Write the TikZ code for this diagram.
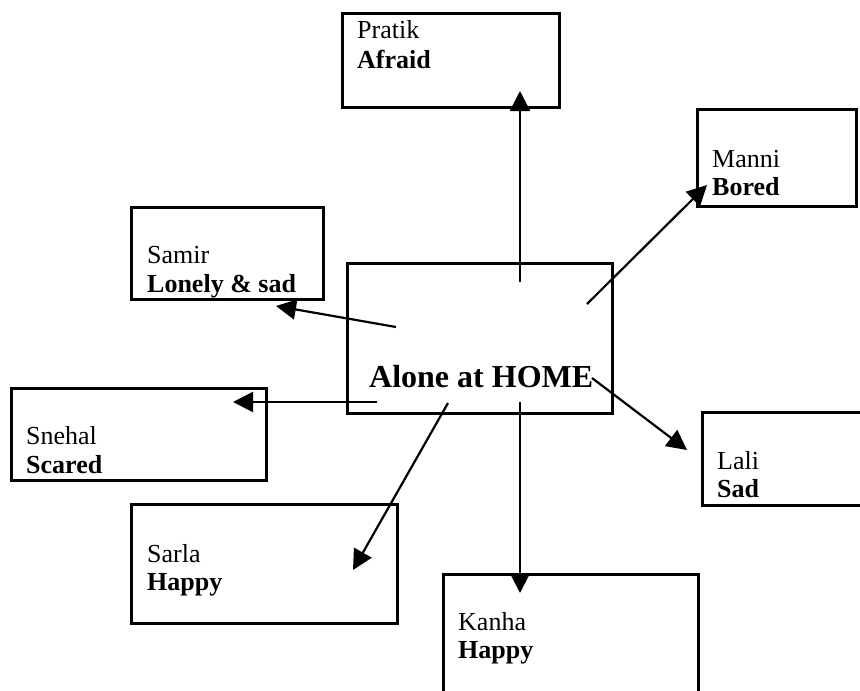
\documentclass[tikz,border=0pt]{standalone}
\usepackage{fontspec}
\setmainfont{Liberation Serif}
\usetikzlibrary{arrows.meta}
\begin{document}
\begin{tikzpicture}[x=1pt,y=-1pt,
  box/.style={draw,line width=3pt},
  lbl/.style={anchor=base west,inner sep=0pt,font=\fontsize{26}{28}\selectfont},
  mood/.style={lbl,font=\fontsize{26}{28}\selectfont\bfseries},
  arr/.style={line width=2.2pt,-{Triangle[length=20pt,width=20pt]}}]
\useasboundingbox (0,0) rectangle (860,691);
\clip (0,0) rectangle (860,691);
\fill[white] (0,0) rectangle (860,691);
% boxes
\draw[box] (342,13) rectangle (559,107) coordinate (pratikbox);
\draw[box] (697,109) rectangle (856,206) coordinate (mannibox);
\draw[box] (131,207) rectangle (323,299) coordinate (samirbox);
\draw[box] (347,263) rectangle (612,413) coordinate (centerbox);
\draw[box] (11,388) rectangle (266,480) coordinate (snehalbox);
\draw[box] (702,412) rectangle (900,505) coordinate (lalibox);
\draw[box] (131,504) rectangle (397,623) coordinate (sarlabox);
\draw[box] (443,574) rectangle (698,720) coordinate (kanhabox);
% texts
\node[lbl]  (pratik)  at (357,38)  {Pratik};
\node[mood] (pratikm) at (357,68)  {Afraid};
\node[lbl]  (manni)   at (712,167) {Manni};
\node[mood] (mannim)  at (712,195) {Bored};
\node[lbl]  (samir)   at (147,263) {Samir};
\node[mood] (samirm)  at (147,292) {Lonely \& sad};
\node[lbl]  (snehal)  at (26,444)  {Snehal};
\node[mood] (snehalm) at (26,473)  {Scared};
\node[lbl]  (lali)    at (717,469) {Lali};
\node[mood] (lalim)   at (717,497) {Sad};
\node[lbl]  (sarla)   at (147,562) {Sarla};
\node[mood] (sarlam)  at (147,590) {Happy};
\node[lbl]  (kanha)   at (458,630) {Kanha};
\node[mood] (kanham)  at (458,658) {Happy};
\node[anchor=base west,inner sep=0pt,font=\fontsize{32}{34}\selectfont\bfseries] (home) at (369,387) {Alone at HOME};
% arrow ends
\coordinate (s1) at (520,282); \coordinate (t1) at (520,91);
\coordinate (s2) at (587,304); \coordinate (t2) at (707,185);
\coordinate (s3) at (396,327); \coordinate (t3) at (276,306);
\coordinate (s4) at (377,402); \coordinate (t4) at (233,402);
\coordinate (s5) at (448,403); \coordinate (t5) at (353,570);
\coordinate (s6) at (520,402); \coordinate (t6) at (520,593);
\coordinate (s7) at (592,378); \coordinate (t7) at (687,450);
\draw[arr] (s1) -- (t1);
\draw[arr] (s2) -- (t2);
\draw[arr] (s3) -- (t3);
\draw[arr] (s4) -- (t4);
\draw[arr] (s5) -- (t5);
\draw[arr] (s6) -- (t6);
\draw[arr] (s7) -- (t7);
\end{tikzpicture}
\end{document}
